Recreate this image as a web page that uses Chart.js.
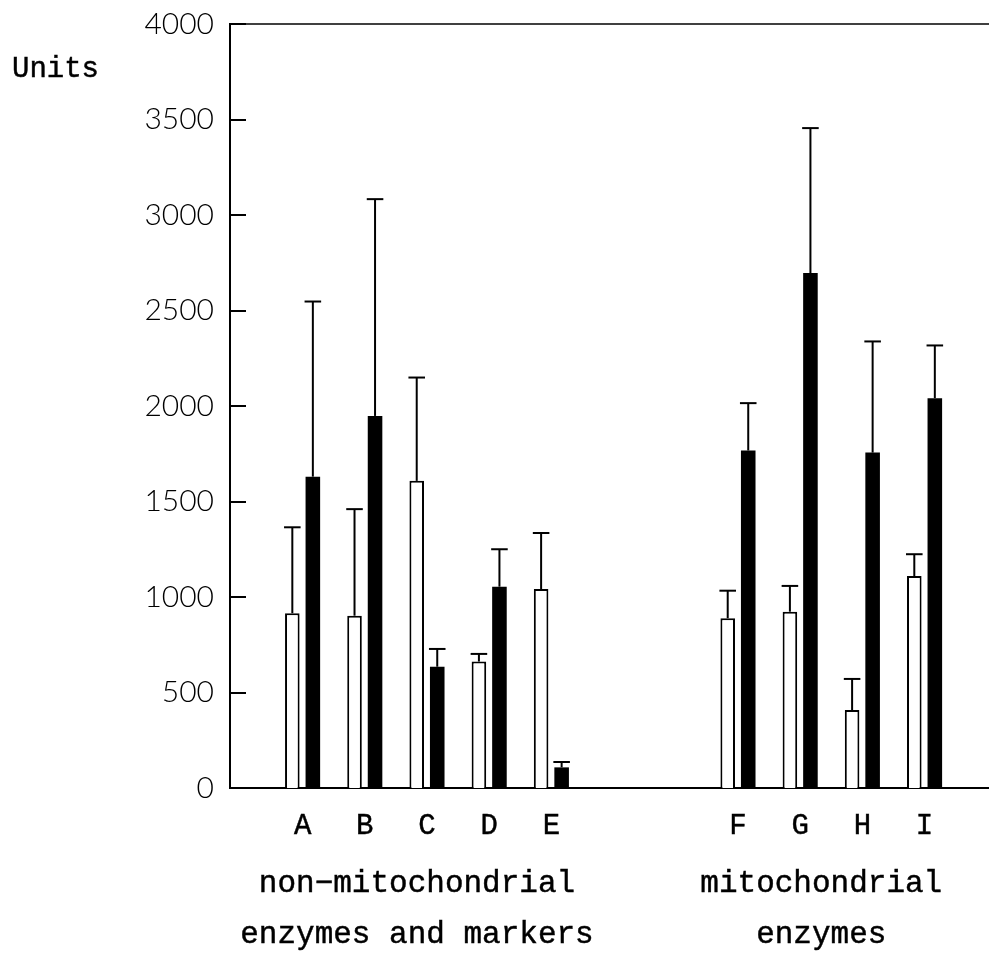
<!DOCTYPE html>
<html><head><meta charset="utf-8">
<script src="https://cdn.jsdelivr.net/npm/chart.js@4"></script>
<style>html,body{margin:0;padding:0;background:#fff;overflow:hidden}canvas{display:block}</style>
</head><body>
<canvas id="c" width="989" height="953"></canvas>
<script>
// ---- data ----
const categories = ['A','B','C','D','E','F','G','H','I'];
const slotPositions = [1,2,3,4,5,8,9,10,11];            // category slots (two empty slots between E and F)
const openValues   = [915, 902, 1608, 662, 1042, 889, 923, 408, 1110];
const openErrors   = [450, 558, 541, 40, 293, 144, 135, 163, 114];
const filledValues = [1630, 1948, 635, 1054, 108, 1767, 2696, 1756, 2041];
const filledErrors = [917, 1135, 93, 196, 28, 248, 759, 582, 276];
const yTicks = [0, 500, 1000, 1500, 2000, 2500, 3000, 3500, 4000];
const groupNames = [['non\u2212mitochondrial', 'enzymes and markers'], ['mitochondrial', 'enzymes']];
const groupMembers = [['A','B','C','D','E'], ['F','G','H','I']];
const yAxisTitle = 'Units';

const MONO = '"Liberation Mono", "Courier New", monospace';
const SANS = 'Lato, "Open Sans", sans-serif';

const errorSets = [openErrors, filledErrors];
const valueSets = [openValues, filledValues];

function boldText(ctx, text, x, y) {
  ctx.fillText(text, x, y);
  ctx.strokeText(text, x, y);
}

const decorPlugin = {
  id: 'decor',
  afterDatasetsDraw(chart) {
    const ctx = chart.ctx;
    const ya = chart.scales.y, xa = chart.scales.x;
    const area = chart.chartArea;
    ctx.save();
    ctx.strokeStyle = '#000';
    ctx.lineCap = 'butt';
    // error bars
    chart.data.datasets.forEach((ds, i) => {
      const meta = chart.getDatasetMeta(i);
      meta.data.forEach((bar, j) => {
        const top = ya.getPixelForValue(valueSets[i][j] + errorSets[i][j]);
        const half = bar.width / 2 + 1;
        ctx.lineWidth = 2;
        ctx.beginPath();
        ctx.moveTo(bar.x, bar.y);
        ctx.lineTo(bar.x, top);
        ctx.stroke();
        ctx.beginPath();
        ctx.moveTo(bar.x - half, top);
        ctx.lineTo(bar.x + half, top);
        ctx.stroke();
      });
    });
    // inward tick marks on the value axis
    ctx.lineWidth = 2;
    yTicks.forEach(v => {
      const y = Math.round(ya.getPixelForValue(v));
      ctx.beginPath();
      ctx.moveTo(area.left, y);
      ctx.lineTo(area.left + 16, y);
      ctx.stroke();
    });
    // top frame line
    ctx.lineWidth = 1.5;
    ctx.beginPath();
    ctx.moveTo(area.left, area.top);
    ctx.lineTo(area.right, area.top);
    ctx.stroke();
    // axis title
    ctx.fillStyle = '#000';
    ctx.lineWidth = 0.45;
    ctx.font = '29px ' + MONO;
    ctx.textAlign = 'left';
    ctx.textBaseline = 'alphabetic';
    boldText(ctx, yAxisTitle, 12, 77);
    // group captions
    ctx.font = '31px ' + MONO;
    ctx.textAlign = 'center';
    groupMembers.forEach((members, g) => {
      const px = members.map(m => xa.getPixelForValue(slotPositions[categories.indexOf(m)]));
      const cx = px.reduce((a, b) => a + b, 0) / px.length - 10;
      boldText(ctx, groupNames[g][0], cx, 892);
      boldText(ctx, groupNames[g][1], cx, 943);
    });
    ctx.restore();
  }
};

new Chart(document.getElementById('c'), {
  type: 'bar',
  data: {
    datasets: [
      {
        label: 'open',
        data: slotPositions.map((p, i) => ({x: p, y: openValues[i]})),
        backgroundColor: '#ffffff',
        borderColor: '#000000',
        borderWidth: 2,
        borderSkipped: 'start'
      },
      {
        label: 'filled',
        data: slotPositions.map((p, i) => ({x: p, y: filledValues[i]})),
        backgroundColor: '#000000',
        borderWidth: 0
      }
    ]
  },
  options: {
    responsive: false,
    devicePixelRatio: 1,
    animation: false,
    categoryPercentage: 0.66,
    barPercentage: 0.71,
    layout: {padding: {top: 24, left: 0, right: 0, bottom: 0}},
    plugins: {legend: {display: false}, tooltip: {enabled: false}},
    scales: {
      x: {
        type: 'linear',
        offset: false,
        min: -0.167,
        max: 12.036,
        grid: {display: false, drawTicks: false, drawOnChartArea: false},
        border: {display: true, color: '#000', width: 2},
        afterBuildTicks: (scale) => { scale.ticks = slotPositions.map(v => ({value: v})); },
        afterFit: (scale) => { scale.height = 165; scale.paddingLeft = 0; scale.paddingRight = 0; },
        ticks: {
          autoSkip: false,
          maxRotation: 0,
          padding: 21,
          color: '#000',
          textStrokeColor: '#000',
          textStrokeWidth: 0.45,
          font: {family: MONO, size: 29},
          callback: (v) => { const k = slotPositions.indexOf(v); return k >= 0 ? categories[k] : ''; }
        }
      },
      y: {
        min: 0,
        max: 4000,
        afterBuildTicks: (scale) => { scale.ticks = yTicks.map(v => ({value: v})); },
        afterFit: (scale) => { scale.width = 230; scale.paddingTop = 0; scale.paddingBottom = 0; },
        grid: {display: false, drawTicks: false, drawOnChartArea: false},
        border: {display: true, color: '#000', width: 2},
        ticks: {
          padding: 16,
          color: '#000',
          font: {family: SANS, size: 30, weight: 300},
          callback: (v) => String(v)
        }
      }
    }
  },
  plugins: [decorPlugin]
});
</script>
</body></html>
